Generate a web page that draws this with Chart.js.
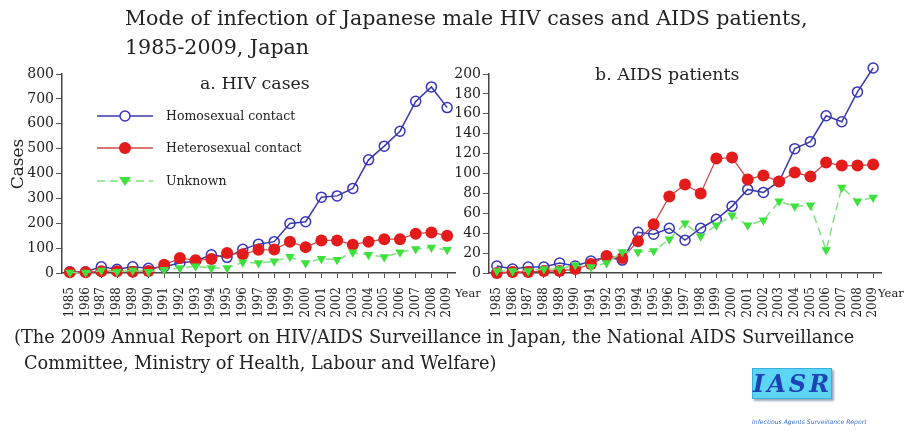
<!DOCTYPE html>
<html>
<head>
<meta charset="utf-8">
<script src="https://cdn.jsdelivr.net/npm/chart.js@4.4.1/dist/chart.umd.min.js"></script>
<style>
  html, body { margin: 0; padding: 0; background: #fff; }
  #page { position: relative; width: 912px; height: 431px; overflow: hidden; font-family: "DejaVu Serif", serif; color: #222; }
  canvas { position: absolute; left: 0; top: 0; }
  .txt { position: absolute; white-space: nowrap; }
  .leg { position: absolute; left: 96px; font-size: 12.5px; }
  .leg svg { position: absolute; left: 0; top: 0; }
  .leg span { position: absolute; left: 70px; top: 0; line-height: 16px; white-space: nowrap; }
</style>
</head>
<body>
<div id="page">
  <canvas id="hiv" width="912" height="431"></canvas>
  <canvas id="aids" width="912" height="431"></canvas>

  <div class="txt" style="left:125px; top:6px; font-size:20.6px;">Mode of infection of Japanese male HIV cases and AIDS patients,</div>
  <div class="txt" style="left:125px; top:35px; font-size:20.6px;">1985-2009, Japan</div>
  <div class="txt" style="left:200px; top:73px; font-size:17.4px;">a. HIV cases</div>
  <div class="txt" style="left:595px; top:64px; font-size:17.4px;">b. AIDS patients</div>
  <div class="txt" style="left:-8px; top:154px; font-size:17px; transform:rotate(-90deg);">Cases</div>

  <div class="leg" style="top:108px;">
    <svg width="60" height="16"><line x1="1" y1="8" x2="57" y2="8" stroke="#3a3aa8" stroke-width="1.5"/><circle cx="29" cy="8" r="5" fill="#fff" stroke="#3535c0" stroke-width="1.5"/></svg>
    <span>Homosexual contact</span>
  </div>
  <div class="leg" style="top:140px;">
    <svg width="60" height="16"><line x1="1" y1="8" x2="57" y2="8" stroke="#d04848" stroke-width="1.5"/><circle cx="29" cy="8" r="6" fill="#e41b1b"/></svg>
    <span>Heterosexual contact</span>
  </div>
  <div class="leg" style="top:173px;">
    <svg width="60" height="16"><line x1="1" y1="8" x2="57" y2="8" stroke="#80e080" stroke-width="1.5" stroke-dasharray="8 5"/><polygon points="23,4 35,4 29,13" fill="#3ee03e"/></svg>
    <span>Unknown</span>
  </div>

  <div class="txt" style="left:455px; top:286px; font-size:11.5px;">Year</div>
  <div class="txt" style="left:878px; top:286px; font-size:11.5px;">Year</div>

  <div class="txt" style="left:14px; top:326px; font-size:17.8px;">(The 2009 Annual Report on HIV/AIDS Surveillance in Japan, the National AIDS Surveillance</div>
  <div class="txt" style="left:24px; top:352px; font-size:17.8px;">Committee, Ministry of Health, Labour and Welfare)</div>

  <div class="txt" style="left:752px; top:368px; width:78px; height:29px; background:#5cd6f4; border:1px solid #3ab0d8; box-shadow:2px 2px 2px #9ab; text-align:center; font-family:'DejaVu Serif',serif; font-weight:bold; font-style:italic; font-size:24px; line-height:29px; color:#1c44b4; letter-spacing:3px;">IASR</div>
  <div class="txt" style="left:752px; top:418px; font-family:'DejaVu Sans',sans-serif; font-style:italic; font-size:6.1px; color:#3a6ad0;">Infectious Agents Surveillance Report</div>
</div>

<script>
// years on the x axis
var years = ['1985','1986','1987','1988','1989','1990','1991','1992','1993','1994','1995','1996','1997',
             '1998','1999','2000','2001','2002','2003','2004','2005','2006','2007','2008','2009'];

// a. HIV cases
var hivHomo    = [5, 5, 25, 15, 25, 19, 25, 40, 48, 73, 63, 95, 116, 126, 199, 206, 305, 310, 340, 455, 510, 570, 690, 748, 665];
var hivHetero  = [3, 3, 7, 7, 5, 8, 33, 60, 51, 56, 80, 75, 93, 94, 126, 104, 131, 131, 114, 126, 136, 136, 158, 163, 150];
var hivUnknown = [2, 2, 10, 5, 10, 5, 13, 20, 27, 20, 20, 43, 40, 47, 65, 40, 57, 53, 83, 73, 64, 83, 96, 103, 93];

// b. AIDS patients
var aidsHomo    = [7, 4, 6, 6, 10, 7, 12, 16, 13, 41, 39, 45, 33, 45, 54, 67, 84, 81, 92, 125, 132, 158, 152, 182, 206];
var aidsHetero  = [0, 1, 1, 2, 2, 4, 9, 17, 15, 32, 49, 77, 89, 80, 115, 116, 94, 98, 92, 101, 97, 111, 108, 108, 109];
var aidsUnknown = [2, 2, 2, 4, 4, 8, 6, 10, 21, 21, 22, 34, 50, 37, 48, 58, 48, 53, 72, 67, 68, 23, 86, 72, 76];

var hivTicks = [0, 100, 200, 300, 400, 500, 600, 700, 800];
var aidsTicks = [0, 20, 40, 60, 80, 100, 120, 140, 160, 180, 200];

function series(homo, hetero, unknown) {
  return [
    { label: 'Homosexual contact', data: homo, borderColor: '#3a3aa8', borderWidth: 1.5,
      pointRadius: 5, pointBorderWidth: 1.5, pointBorderColor: '#3535c0',
      pointBackgroundColor: 'rgba(255,255,255,0)', clip: false, order: 3 },
    { label: 'Heterosexual contact', data: hetero, borderColor: '#d04848', borderWidth: 1.3,
      pointRadius: 6, pointBorderWidth: 0, pointBackgroundColor: '#e41b1b',
      pointBorderColor: '#e41b1b', clip: false, order: 2 },
    { label: 'Unknown', data: unknown, borderColor: '#80e080', borderWidth: 1.5, borderDash: [8, 5],
      pointStyle: 'triangle', rotation: 180, pointRadius: 5.5, pointBorderWidth: 0,
      pointBackgroundColor: '#3ee03e', pointBorderColor: '#3ee03e', clip: false, order: 1 }
  ];
}

function makeChart(id, sets, tickVals, pad, yWidth) {
  return new Chart(document.getElementById(id), {
    type: 'line',
    data: { labels: years, datasets: sets },
    options: {
      responsive: false,
      animation: false,
      devicePixelRatio: 1,
      layout: { padding: pad },
      plugins: { legend: { display: false }, tooltip: { enabled: false } },
      elements: { line: { tension: 0 } },
      scales: {
        x: {
          offset: true,
          grid: { offset: false, drawOnChartArea: false, drawTicks: true, tickLength: 5, color: '#555' },
          border: { color: '#444', width: 1.5 },
          ticks: { autoSkip: false, minRotation: 90, maxRotation: 90, padding: 9, color: '#222',
                   font: { family: 'DejaVu Serif', size: 12 } },
          afterFit: function (s) { s.height = 48; }
        },
        y: {
          min: 0,
          max: tickVals[tickVals.length - 1],
          afterBuildTicks: function (s) { s.ticks = tickVals.map(function (v) { return { value: v }; }); },
          grid: { drawOnChartArea: false, drawTicks: true, tickLength: 6, color: '#555' },
          border: { color: '#444', width: 1.5 },
          ticks: { padding: 2, color: '#222', font: { family: 'DejaVu Serif', size: 14 } },
          afterFit: function (s) { s.width = yWidth; }
        }
      }
    }
  });
}

makeChart('hiv', series(hivHomo, hivHetero, hivUnknown), hivTicks,
  { left: 0, top: 74, right: 457, bottom: 431 - 273 - 48 }, 62);
makeChart('aids', series(aidsHomo, aidsHetero, aidsUnknown), aidsTicks,
  { left: 449, top: 74, right: 31, bottom: 431 - 273 - 48 }, 40);
</script>
</body>
</html>
